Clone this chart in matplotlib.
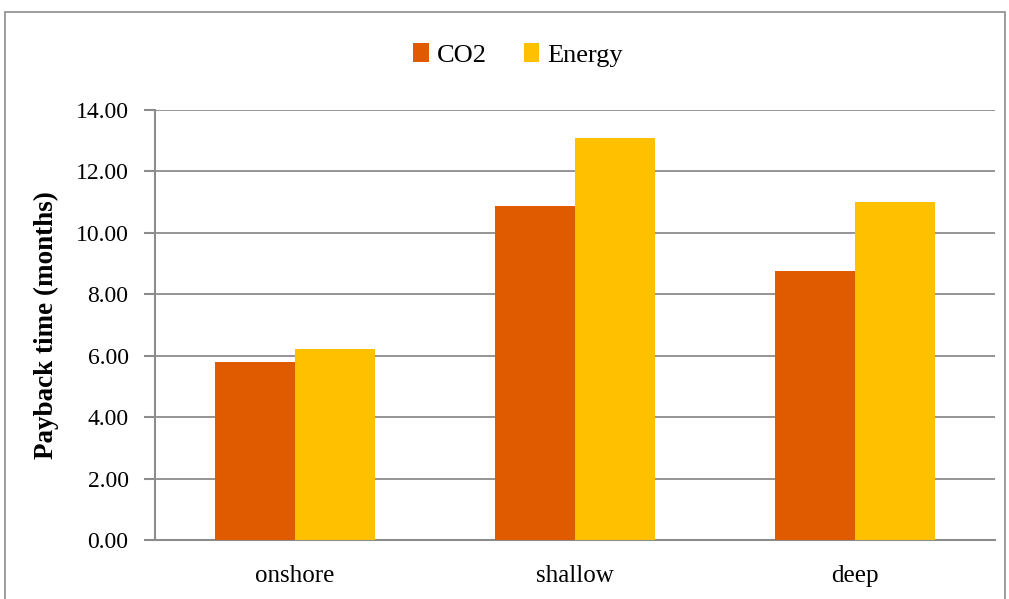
import matplotlib
matplotlib.use("Agg")
import matplotlib.pyplot as plt
import numpy as np
from matplotlib.patches import Rectangle

sites = ["onshore", "shallow", "deep"]
co2_months = [5.80, 10.86, 8.76]
energy_months = [6.22, 13.08, 11.01]
y_ticks = [0, 2, 4, 6, 8, 10, 12, 14]

CO2_COLOR = "#E05A00"
ENERGY_COLOR = "#FFC000"
GRID_COLOR = "#8C8C8C"

plt.rcParams["font.family"] = ["Liberation Serif", "DejaVu Serif"]

fig = plt.figure(figsize=(10.09, 5.99), dpi=100)
W, H = 1009, 599
ax = fig.add_axes([155 / W, 1 - 540 / H, 840 / W, 430 / H])

x = np.arange(len(sites))
width = 80 / 280
ax.bar(x - width / 2, co2_months, width, color=CO2_COLOR, label="CO2", zorder=3)
ax.bar(x + width / 2, energy_months, width, color=ENERGY_COLOR, label="Energy", zorder=3)

ax.set_xlim(-0.5, len(sites) - 0.5)
ax.set_ylim(0, 14)
ax.set_yticks(y_ticks)
ax.set_yticklabels([f"{v:.2f}" for v in y_ticks], fontsize=17)
ax.set_xticks(x)
ax.set_xticklabels(sites, fontsize=18)
ax.tick_params(axis="x", length=0, pad=18)
ax.tick_params(axis="y", length=8, width=1.5, color=GRID_COLOR, pad=11)

ax.grid(axis="y", color=GRID_COLOR, linewidth=1.3, zorder=0)
for side in ("top", "right"):
    ax.spines[side].set_visible(False)
for side in ("left", "bottom"):
    ax.spines[side].set_color(GRID_COLOR)
    ax.spines[side].set_linewidth(1.5)

ax.set_ylabel("Payback time (months)", fontsize=19.5, fontweight="bold", labelpad=12)

fig.legend(loc="center", bbox_to_anchor=(518 / W, 1 - 55 / H), ncol=2, frameon=False,
           fontsize=19, handlelength=0.6, handleheight=0.7, handletextpad=0.3,
           columnspacing=1.4)

# outer chart border
fig.add_artist(Rectangle((5 / W, -0.02), 1000 / W, 1 - 12 / H + 0.02,
                         transform=fig.transFigure, fill=False,
                         edgecolor=GRID_COLOR, linewidth=1.2))

fig.savefig("out.png", dpi=100)
